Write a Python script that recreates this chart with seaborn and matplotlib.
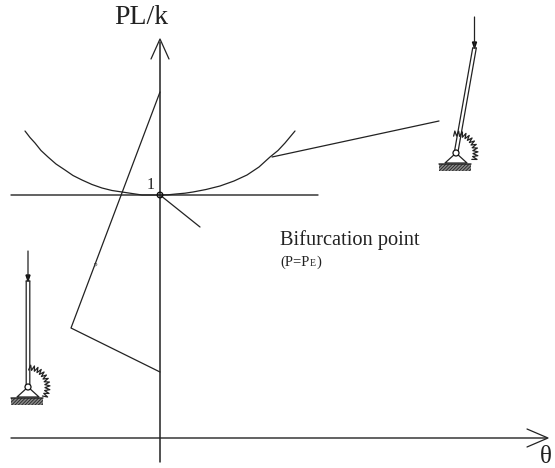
import numpy as np
import matplotlib
matplotlib.use('Agg')
import matplotlib.pyplot as plt
import seaborn as sns

sns.set_theme(style='white')
plt.rcParams['font.family'] = ['Liberation Serif', 'DejaVu Serif']
plt.rcParams['hatch.linewidth'] = 0.6
plt.rcParams['path.snap'] = False

# everything, in picture pixels
curve_x = [25, 30, 35, 41, 48, 56, 65, 73, 82, 92, 102, 112, 122, 132, 142, 151, 160,
           168, 176, 185, 193, 206, 220, 234, 247, 259, 270, 278, 285, 295]
curve_y = [131, 137.5, 143, 150.5, 157, 164, 170, 175.5, 180, 184.5, 188, 190.5, 192, 193.5, 195, 195, 195,
           194.8, 194, 193.2, 192, 189.5, 186, 181, 175, 167, 157, 150.5, 143, 131]
vert_axis_x = [160, 160]
vert_axis_y = [462, 42]
horiz_axis_x = [11, 546]
horiz_axis_y = [438, 438]
level_x = [11, 318]
level_y = [195, 195]
tangent_x = [160, 200]
tangent_y = [195, 227]
leader_top_x = [272, 439]
leader_top_y = [157, 121]
leader_left_x = [160, 71, 160]
leader_left_y = [92, 328, 372]

# little column drawings
left_hinge = (28, 387)
left_top = (28, 281)
left_load_y = 251
right_hinge = (456, 153)
right_top = (474.5, 48)
right_load_y = 17
spring_deg = [88, 83, 78, 73, 68, 63, 58, 53, 48, 43, 38, 33, 28, 23, 18, 13, 8, 3, -2, -7, -12, -17, -22, -27, -32]
spring_rad = [17, 22, 17, 22, 17, 22, 17, 22, 17, 22, 17, 22, 17, 22, 17, 22, 17, 22, 17, 22, 17, 22, 17, 22, 17]

fig = plt.figure(figsize=(5.55, 4.68), dpi=100)
ax = fig.add_axes([0, 0, 1, 1])


def draw(xs, ys, lw=1.0, color='#222222'):
    sns.lineplot(x=xs, y=ys, sort=False, estimator=None, errorbar=None,
                 color=color, linewidth=lw, ax=ax, legend=False)


def column(hinge, top, load_y, tilt):
    hx, hy = hinge
    tx, ty = top
    # double line of the bar
    draw([hx - 1.8, tx - 1.8], [hy, ty], 0.9)
    draw([hx + 1.8, tx + 1.8], [hy, ty], 0.9)
    draw([tx - 1.8, tx + 1.8], [ty, ty], 0.9)
    # load arrow
    draw([tx, tx], [load_y, ty], 0.9)
    ax.fill([tx - 2, tx + 2, tx], [ty - 6, ty - 6, ty], color='#111111')
    # support
    draw([hx, hx - 11, hx + 11, hx], [hy, hy + 10, hy + 10, hy], 0.9)
    ax.fill_between([hx - 17, hx + 15], hy + 11, hy + 18, facecolor='#888888',
                    edgecolor='#222222', hatch='//////////', linewidth=0)
    draw([hx - 17, hx + 15], [hy + 11, hy + 11], 1.0)
    ax.add_patch(plt.Circle(hinge, 3, fc='white', ec='#111111', lw=0.9, zorder=5))
    # spring
    a = np.radians(np.array(spring_deg) - tilt)
    r = np.array(spring_rad)
    draw(hx + r * np.cos(a), hy - r * np.sin(a), 0.9)


draw(curve_x, curve_y, 0.9)
draw(level_x, level_y, 1.0)
draw(vert_axis_x, vert_axis_y, 1.1)
draw(horiz_axis_x, horiz_axis_y, 1.0)
draw(tangent_x, tangent_y, 0.9)
draw(leader_top_x, leader_top_y, 0.9)
draw(leader_left_x, leader_left_y, 0.9)

# open arrow heads
draw([151, 160, 169], [59, 39, 59], 0.9)
draw([527, 548, 527], [429, 438, 447], 0.9)
ax.add_patch(plt.Circle((160, 195), 2.8, fc='none', ec='#111111', lw=1.0, zorder=5))

column(left_hinge, left_top, left_load_y, 0)
column(right_hinge, right_top, right_load_y, -10)

ax.text(141, 24, 'PL/k', fontsize=20, ha='center', va='baseline', color='#222222')
ax.text(546, 463, 'θ', fontsize=18, ha='center', va='baseline', color='#222222')
ax.text(151, 189, '1', fontsize=11.5, ha='center', va='baseline', color='#222222')
ax.text(280, 245, 'Bifurcation point', fontsize=14.7, ha='left', va='baseline', color='#222222')
ax.text(280, 266, '(P=P', fontsize=10.5, ha='left', va='baseline', color='#222222')
ax.text(310, 266, 'E', fontsize=7, ha='left', va='baseline', color='#222222')
ax.text(316.5, 266, ')', fontsize=10.5, ha='left', va='baseline', color='#222222')
ax.text(95.5, 266, 'p', fontsize=5, ha='center', va='baseline', color='#333333')

ax.set_xlim(0, 555)
ax.set_ylim(468, 0)
ax.axis('off')
fig.savefig('out.png', dpi=100, facecolor='white')
